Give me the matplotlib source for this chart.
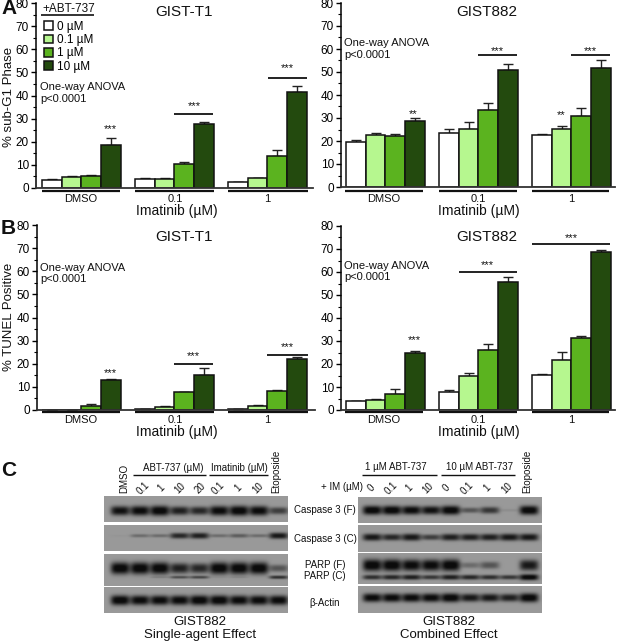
import numpy as np
import matplotlib
matplotlib.use("Agg")
import matplotlib.pyplot as plt

plt.rcParams['font.family'] = ['Liberation Sans', 'DejaVu Sans']

W, H = 617, 642

doses = ['0 µM', '0.1 µM', '1 µM', '10 µM']
colors = ['#ffffff', '#b6f78f', '#5bb31f', '#234a0e']
groups = ['DMSO', '0.1', '1']

# bar heights and top of the error bar, per group
a_t1 = [[3.3, 4.8, 5.2, 18.8], [3.9, 3.9, 10.5, 27.8], [2.6, 4.2, 13.7, 41.5]]
a_t1_top = [[4.0, 5.2, 5.7, 21.7], [4.4, 4.2, 11.3, 28.6], [2.7, 4.4, 16.5, 44.2]]
a_882 = [[19.5, 22.7, 22.3, 28.8], [23.5, 25.2, 33.6, 50.8], [22.6, 25.4, 31.0, 51.6]]
a_882_top = [[20.5, 23.5, 23.0, 30.2], [25.2, 28.3, 36.5, 53.3], [23.0, 26.5, 34.4, 55.2]]
b_t1 = [[0.1, 0.1, 1.7, 13.1], [0.5, 1.4, 7.7, 15.1], [0.4, 1.7, 8.1, 22.1]]
b_t1_top = [[0.2, 0.2, 2.4, 13.4], [0.6, 1.9, 8.0, 18.1], [0.5, 2.0, 8.6, 22.8]]
b_882 = [[3.7, 4.5, 7.1, 24.8], [7.8, 15.0, 26.0, 55.7], [15.2, 21.8, 31.2, 68.8]]
b_882_top = [[4.0, 4.9, 9.1, 25.5], [8.5, 16.3, 28.6, 57.9], [15.6, 25.1, 32.0, 69.5]]

# blot band strength per lane
single_lanes = ['0.1', '1', '10', '20', '0.1', '1', '10']
combo_lanes = ['0', '0.1', '1', '10', '0', '0.1', '1', '10']
single_casp_f = [.9, .95, 1, .8, .75, .95, 1, .95, .6]
single_casp_c = [.03, .3, .3, .75, .8, .3, .4, .3, .85]
single_parp_f = [1, 1, 1, .8, .75, 1, 1, 1, .45]
single_parp_c = [0, 0, .15, .5, .55, .05, .1, 0, .7]
single_actin = [1, .95, .95, .95, 1, 1, .95, .95, .95]
combo_casp_f = [1, 1, .95, .9, 1, .45, .65, .08, 1]
combo_casp_c = [.85, .75, .85, .6, .8, .8, .8, .85, .85]
combo_parp_f = [1, 1, .95, .95, 1, .3, .45, 0, .85]
combo_parp_c = [.7, .75, .8, .65, .8, .75, .7, .65, 1]
combo_actin = [.95, .95, .95, .95, 1, .85, .85, .8, 1]

fig = plt.figure(figsize=(W / 100, H / 100), dpi=100, facecolor='white')

# overlay in pixel coordinates for labels and blots
ov = fig.add_axes([0, 0, 1, 1], zorder=5)
ov.set_xlim(0, W)
ov.set_ylim(H, 0)
ov.axis('off')
ov.patch.set_alpha(0)


def txt(x, y, s, size=9.5, ha='center', **kw):
    ov.text(x, y, s, fontsize=size, ha=ha, va='center', color='#111111', **kw)


def hline(x0, x1, y, lw=1.3):
    ov.plot([x0, x1], [y, y], color='#111111', lw=lw, solid_capstyle='butt')


def bar_panel(left, right, top, bottom, start, vals, tops):
    # left/right/top/bottom are the axis box in pixels, start = first bar edge
    ax = fig.add_axes([left / W, 1 - bottom / H, (right - left) / W, (bottom - top) / H])
    bw = 19.7
    x0 = (left - start) / bw - 0.5
    x1 = (right - start) / bw - 0.5
    ax.set_xlim(x0, x1)
    ax.set_ylim(0, 80)
    for g in range(3):
        for i in range(4):
            x = g * 4.72 + i
            ax.errorbar(x, vals[g][i], yerr=[[0], [tops[g][i] - vals[g][i]]], color='#222222',
                        lw=1, capsize=3.5, capthick=1, zorder=1)
            ax.bar(x, vals[g][i], width=1, color=colors[i], edgecolor='#111111', lw=1.1, zorder=2,
                   label=doses[i] if g == 0 else None)
    ax.spines['top'].set_visible(False)
    ax.spines['right'].set_visible(False)
    ax.spines['left'].set_linewidth(1.1)
    ax.spines['bottom'].set_linewidth(1.3)
    ax.spines['bottom'].set_color('#333333')
    ax.set_xticks([])
    ax.set_yticks(np.arange(0, 81, 10))
    ax.set_yticks(np.arange(0, 81, 5), minor=True)
    ax.tick_params(axis='y', which='major', length=3.5, width=1, labelsize=8.5, pad=1.5)
    ax.tick_params(axis='y', which='minor', length=2, width=0.8)
    ax.patch.set_alpha(0)
    return ax


ax_a1 = bar_panel(36, 313, 3, 188, 42, a_t1, a_t1_top)
ax_a2 = bar_panel(341, 615, 3, 187, 346, a_882, a_882_top)
ax_b1 = bar_panel(37, 315, 225, 410, 42, b_t1, b_t1_top)
ax_b2 = bar_panel(341, 615, 226, 410, 346, b_882, b_882_top)

leg = ax_a1.legend(loc='upper left', bbox_to_anchor=(0.029, 0.905), frameon=False, fontsize=8.5,
                   handlelength=0.76, handleheight=0.76, labelspacing=0.12, handletextpad=0.34,
                   borderpad=0, borderaxespad=0)
txt(69, 9.5, '+ABT-737', size=8.5)
hline(41, 94, 15, 1.2)

# panel letters
txt(1, 9, 'A', size=15, ha='left', fontweight='bold')
txt(1, 229, 'B', size=15, ha='left', fontweight='bold')
txt(1, 471, 'C', size=15, ha='left', fontweight='bold')

# titles
for x, y, s in [(184, 12, 'GIST-T1'), (487, 12, 'GIST882'), (184, 237, 'GIST-T1'), (487, 237, 'GIST882')]:
    txt(x, y, s, size=11)

txt(9, 97, '% sub-G1 Phase', size=9.5, rotation=90)
txt(9, 317, '% TUNEL Positive', size=9.5, rotation=90)

# anova notes
for x, y in [(40, 87), (344, 43), (40, 268), (344, 266)]:
    txt(x, y, 'One-way ANOVA', size=8, ha='left')
    txt(x, y + 11.5, 'p<0.0001', size=8, ha='left')

# group labels below the axes
for y_line, y_tick, y_lab in [(191, 198.5, 210.5), (412, 420, 432)]:
    for x0, x1, x_lab, s in [(42, 120, 81, groups[0]), (135, 214, 175, groups[1]), (228, 308, 267, groups[2]),
                             (345, 423, 384, groups[0]), (439, 517, 478, groups[1]), (532, 609, 571, groups[2])]:
        hline(x0, x1, y_line, 1.6)
        txt(x_lab, y_tick, s, size=8)
    txt(177, y_lab, 'Imatinib (µM)', size=10)
    txt(479, y_lab, 'Imatinib (µM)', size=10)

# significance bars
for x0, x1, y in [(174, 213, 114), (268, 307, 78), (478, 517, 55), (571, 610, 55),
                  (174, 213, 364), (267, 308, 355), (459, 517, 272), (532, 610, 244)]:
    hline(x0, x1, y)
for x, y, s in [(110, 129, '***'), (194, 106, '***'), (287, 68, '***'), (413, 114, '**'), (561, 115, '**'),
                (497, 51, '***'), (590, 51, '***'), (110, 373, '***'), (193, 356, '***'), (287, 347, '***'),
                (414, 340, '***'), (487, 265, '***'), (571, 238, '***')]:
    txt(x, y, s, size=8)


def blot(x0, x1, y0, y1, bands, lane0, lane_step):
    # bands: (strengths, centre y in pixels, half thickness)
    xs = np.arange(x0, x1, 0.5)
    ys = np.arange(y0, y1, 0.5)
    xx, yy = np.meshgrid(xs, ys)
    img = np.full(xx.shape, 0.6)
    for strengths, yc, th in bands:
        for k, s in enumerate(strengths):
            xc = lane0 + k * lane_step
            prof = np.exp(-((xx - xc) / 9.5) ** 4) * np.exp(-(np.abs(yy - yc) / (th * (0.25 + 0.75 * s))) ** 2.5)
            img -= 0.6 * s * prof
    ov.imshow(np.clip(img, 0.05, 1), extent=(x0, x1, y1, y0), cmap='gray', vmin=0, vmax=1,
              aspect='auto', interpolation='bilinear', zorder=1)


blot(104, 288, 496, 522, [(single_casp_f, 510.5, 5)], 120, 19.8)
blot(104, 288, 525, 551, [(single_casp_c, 535.5, 3.5)], 120, 19.8)
blot(104, 288, 554, 586, [(single_parp_f, 568, 6), (single_parp_c, 577, 2.2)], 120, 19.8)
blot(104, 288, 587, 613, [(single_actin, 600, 5)], 120, 19.8)
blot(358, 542, 497, 523, [(combo_casp_f, 510, 4.5)], 372, 19.6)
blot(358, 542, 525, 552, [(combo_casp_c, 537, 4)], 372, 19.6)
blot(358, 542, 553, 584, [(combo_parp_f, 565, 6), (combo_parp_c, 577, 3)], 372, 19.6)
blot(358, 542, 586, 613, [(combo_actin, 597.5, 4.5)], 372, 19.6)
ov.set_xlim(0, W)
ov.set_ylim(H, 0)

# blot headers
fs = 7
txt(173, 468, 'ABT-737 (µM)', size=fs)
txt(239, 468, 'Imatinib (µM)', size=fs)
hline(133, 206, 475, 1)
hline(209, 268, 475, 1)
txt(396, 467, '1 µM ABT-737', size=fs)
txt(480, 467, '10 µM ABT-737', size=fs)
hline(362, 437, 475, 1)
hline(441, 515, 475, 1)
txt(363, 487, '+ IM (µM)', size=fs, ha='right')
ov.text(124, 493, 'DMSO', fontsize=fs, rotation=90, ha='center', va='bottom', color='#111111')
ov.text(276, 493, 'Etoposide', fontsize=fs, rotation=90, ha='center', va='bottom', color='#111111')
ov.text(527, 493, 'Etoposide', fontsize=fs, rotation=90, ha='center', va='bottom', color='#111111')
for x, s in zip([143, 161, 180, 200, 218, 238, 258], single_lanes):
    txt(x, 488, s, size=fs, rotation=45)
for x, s in zip([371, 391, 409, 428, 446, 467, 487, 507], combo_lanes):
    txt(x, 488, s, size=fs, rotation=45)
for y, s in [(510, 'Caspase 3 (F)'), (539, 'Caspase 3 (C)'), (565, 'PARP (F)'), (576, 'PARP (C)'), (603, 'β-Actin')]:
    txt(325, y, s, size=fs)

txt(200, 622, 'GIST882', size=9.5)
txt(200, 635, 'Single-agent Effect', size=9.5)
txt(449, 622, 'GIST882', size=9.5)
txt(449, 635, 'Combined Effect', size=9.5)

fig.savefig('out.png', dpi=100)
